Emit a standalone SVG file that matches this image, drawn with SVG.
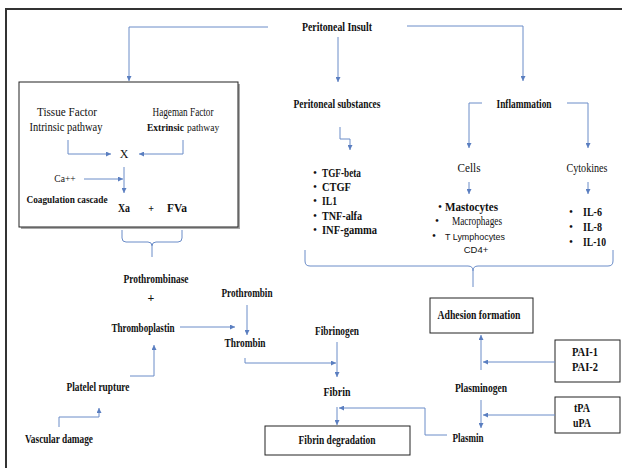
<svg xmlns="http://www.w3.org/2000/svg" width="622" height="468" viewBox="0 0 622 468">
<style>
text{font-family:"Liberation Serif","Times New Roman",serif;font-size:12px;fill:#111;text-anchor:middle}
.b{font-weight:bold}
.s{font-family:"Liberation Sans",Arial,sans-serif;font-size:9.5px}
.st{text-anchor:start}
.bu{font-size:10px;font-weight:bold}
.bx{fill:#fff;stroke:#222;stroke-width:1}
.c{fill:none;stroke:#6a8cc8;stroke-width:1}
.a{marker-end:url(#ah)}
</style>
<defs>
<marker id="ah" viewBox="0 0 6 6" refX="6" refY="3" markerWidth="5" markerHeight="5" orient="auto" markerUnits="userSpaceOnUse"><path d="M0,0 L6,3 L0,6 z" fill="#5a7ec0"/></marker>
</defs>
<rect width="622" height="468" fill="#fff"/>
<g id="frame"><path d="M6,468 V9 H622" fill="none" stroke="#333" stroke-width="2"/></g>

<g id="insult"><text class="b" x="337" y="31" textLength="70" lengthAdjust="spacingAndGlyphs">Peritoneal Insult</text></g>
<g id="substances"><text class="b" x="337" y="108" textLength="87" lengthAdjust="spacingAndGlyphs">Peritoneal substances</text></g>
<g id="inflammation"><text class="b" x="524" y="108" textLength="55" lengthAdjust="spacingAndGlyphs">Inflammation</text></g>

<g id="coag-box">
<rect x="21" y="84" width="219" height="145" fill="#aaa"/>
<rect class="bx" x="19" y="82" width="219" height="145"/>
<text x="67" y="116" textLength="60" lengthAdjust="spacingAndGlyphs">Tissue Factor</text>
<text x="66" y="131" textLength="73" lengthAdjust="spacingAndGlyphs">Intrinsic pathway</text>
<text x="183" y="116" textLength="61" lengthAdjust="spacingAndGlyphs">Hageman Factor</text>
<text class="b st" x="147" y="131" style="font-size:9.5px">Extrinsic</text>
<text class="st" x="187" y="131" style="font-size:9.5px">pathway</text>
<text x="124" y="158">X</text>
<text x="65" y="182" style="font-size:9.5px">Ca++</text>
<text class="b" x="67" y="203" style="font-size:10.5px" textLength="81" lengthAdjust="spacingAndGlyphs">Coagulation cascade</text>
<text class="b" x="124" y="212" textLength="12" lengthAdjust="spacingAndGlyphs">Xa</text>
<text class="b" x="151" y="212" style="font-size:10px">+</text>
<text class="b" x="177" y="212" textLength="20" lengthAdjust="spacingAndGlyphs">FVa</text>
</g>

<g id="prothrombinase">
<text class="b" x="156" y="283" textLength="65" lengthAdjust="spacingAndGlyphs">Prothrombinase</text>
<text class="b" x="151" y="302">+</text>
</g>
<g id="prothrombin"><text class="b" x="247" y="297" textLength="51" lengthAdjust="spacingAndGlyphs">Prothrombin</text></g>
<g id="thromboplastin"><text class="b" x="143" y="332" textLength="63" lengthAdjust="spacingAndGlyphs">Thromboplastin</text></g>
<g id="thrombin"><text class="b" x="245" y="347" textLength="41" lengthAdjust="spacingAndGlyphs">Thrombin</text></g>
<g id="platelet"><text class="b" x="98" y="391" textLength="63" lengthAdjust="spacingAndGlyphs">Platelel rupture</text></g>
<g id="vascular"><text class="b" x="59" y="443" textLength="68" lengthAdjust="spacingAndGlyphs">Vascular damage</text></g>
<g id="fibrinogen"><text class="b" x="337" y="335" textLength="44" lengthAdjust="spacingAndGlyphs">Fibrinogen</text></g>
<g id="fibrin"><text class="b" x="337" y="396" textLength="27" lengthAdjust="spacingAndGlyphs">Fibrin</text></g>
<g id="fibrin-degradation">
<rect class="bx" x="265" y="426" width="145" height="29"/>
<text class="b" x="337" y="444" textLength="77" lengthAdjust="spacingAndGlyphs">Fibrin degradation</text>
</g>
<g id="plasmin"><text class="b" x="468" y="442" textLength="31" lengthAdjust="spacingAndGlyphs">Plasmin</text></g>
<g id="plasminogen"><text class="b" x="481" y="392" textLength="52" lengthAdjust="spacingAndGlyphs">Plasminogen</text></g>
<g id="adhesion">
<rect class="bx" x="430" y="298" width="103" height="35"/>
<text class="b" x="479" y="319" textLength="83" lengthAdjust="spacingAndGlyphs">Adhesion formation</text>
</g>
<g id="pai">
<rect class="bx" x="555" y="340" width="65" height="42"/>
<text class="b" x="585" y="356" textLength="26" lengthAdjust="spacingAndGlyphs">PAI-1</text>
<text class="b" x="585" y="371" textLength="26" lengthAdjust="spacingAndGlyphs">PAI-2</text>
</g>
<g id="tpa">
<rect class="bx" x="555" y="397" width="65" height="36"/>
<text class="b" x="582" y="412" textLength="16" lengthAdjust="spacingAndGlyphs">tPA</text>
<text class="b" x="582" y="427" textLength="18" lengthAdjust="spacingAndGlyphs">uPA</text>
</g>

<g id="substances-list">
<text class="bu" x="315" y="176">•</text><text class="b st" x="322" y="177" textLength="39" lengthAdjust="spacingAndGlyphs">TGF-beta</text>
<text class="bu" x="315" y="190">•</text><text class="b st" x="322" y="191" textLength="29" lengthAdjust="spacingAndGlyphs">CTGF</text>
<text class="bu" x="315" y="204">•</text><text class="b st" x="322" y="205" textLength="15" lengthAdjust="spacingAndGlyphs">IL1</text>
<text class="bu" x="315" y="219">•</text><text class="b st" x="322" y="220" textLength="40" lengthAdjust="spacingAndGlyphs">TNF-alfa</text>
<text class="bu" x="315" y="233">•</text><text class="b st" x="322" y="234" textLength="55" lengthAdjust="spacingAndGlyphs">INF-gamma</text>
</g>
<g id="cells">
<text x="469" y="172" textLength="23" lengthAdjust="spacingAndGlyphs">Cells</text>
<text class="bu" x="440" y="210">•</text><text class="b st" x="445" y="211" textLength="53" lengthAdjust="spacingAndGlyphs">Mastocytes</text>
<text class="bu" x="437" y="224">•</text><text class="st" x="452" y="225" textLength="50" lengthAdjust="spacingAndGlyphs">Macrophages</text>
<text class="bu" x="434" y="239">•</text><text class="s st" x="445" y="240" textLength="60" lengthAdjust="spacingAndGlyphs">T Lymphocytes</text>
<text class="s" x="476" y="253">CD4+</text>
</g>
<g id="cytokines">
<text x="587" y="172" textLength="41" lengthAdjust="spacingAndGlyphs">Cytokines</text>
<text class="bu" x="571" y="215">•</text><text class="b st" x="583" y="216" textLength="19" lengthAdjust="spacingAndGlyphs">IL-6</text>
<text class="bu" x="571" y="230">•</text><text class="b st" x="583" y="231" textLength="19" lengthAdjust="spacingAndGlyphs">IL-8</text>
<text class="bu" x="571" y="245">•</text><text class="b st" x="583" y="246" textLength="23" lengthAdjust="spacingAndGlyphs">IL-10</text>
</g>

<g id="connectors">
<path class="c a" d="M268,27 H129 V81"/>
<path class="c a" d="M338,37 V82"/>
<path class="c a" d="M407,26 H523 V81"/>
<path class="c a" d="M340,127 V139 H350 V150"/>
<path class="c a" d="M482,103 H469 V148"/>
<path class="c a" d="M567,103 H588 V148"/>
<path class="c a" d="M469,182 V194"/>
<path class="c a" d="M588,182 V194"/>
<path class="c a" d="M68,140 V154 H111"/>
<path class="c a" d="M183,140 V154 H139"/>
<path class="c a" d="M84,179 H123"/>
<path class="c a" d="M124,167 V193"/>
<path class="c" d="M122,230 V238 Q122,242 126,242 H148 Q152,242 152,246 V257 M182,230 V238 Q182,242 178,242 H156 Q152,242 152,246"/>
<path class="c a" d="M247,305 V335"/>
<path class="c a" d="M180,327 H235"/>
<path class="c a" d="M130,376 H154 V345"/>
<path class="c a" d="M59,427 V417 H99 V408"/>
<path class="c a" d="M245,358 V363 H336"/>
<path class="c a" d="M337,342 V377"/>
<path class="c a" d="M337,407 V425"/>
<path class="c a" d="M447,435 H425 V408 H339"/>
<path class="c a" d="M481,370 V335"/>
<path class="c a" d="M555,362 H483"/>
<path class="c a" d="M481,400 V428"/>
<path class="c a" d="M555,415 H483"/>
<path class="c" d="M305,250 V261 Q305,266 310,266 H468 Q473,266 473,271 V287 M613,250 V261 Q613,266 608,266 H478 Q473,266 473,271"/>
</g>
</svg>
